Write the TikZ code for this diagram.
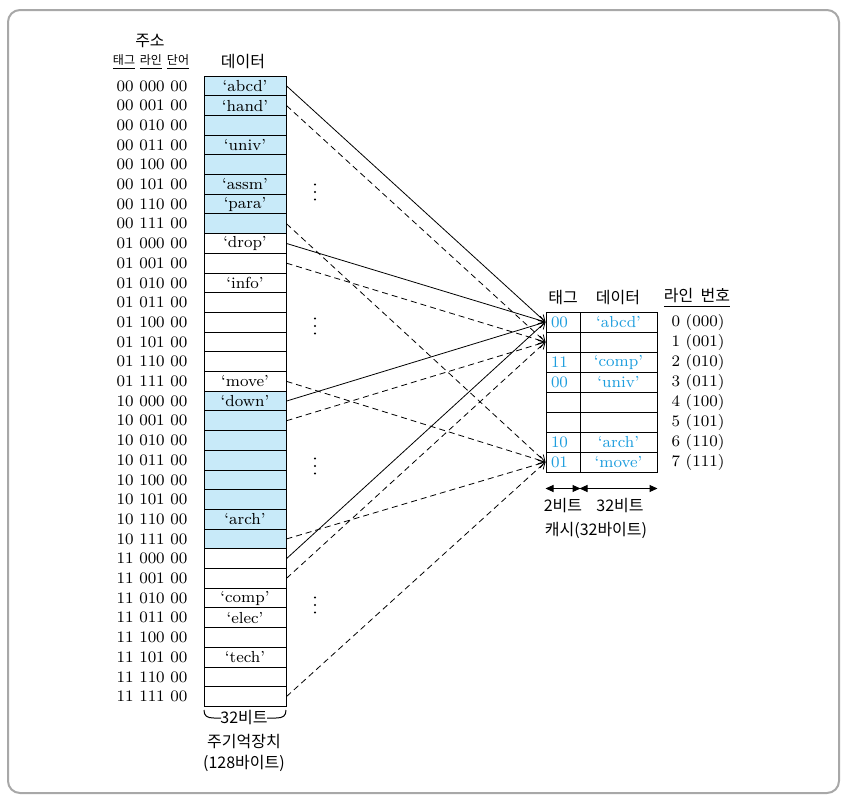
\documentclass[tikz,border=0pt]{standalone}
\usepackage{fontspec}
\newfontfamily\kr{Noto Sans CJK KR}
\usetikzlibrary{arrows.meta}

\definecolor{cellblue}{RGB}{200,234,249}
\definecolor{tagblue}{RGB}{30,158,222}
\definecolor{framegray}{RGB}{168,168,168}

\begin{document}
\begin{tikzpicture}[
    x=0.5pt, y=-0.5pt,
    every node/.style={font=\fontsize{8}{9.6}\selectfont},
    krtext/.style={font=\fontsize{8}{9.6}\selectfont\kr},
    krsmall/.style={font=\fontsize{6}{7.2}\selectfont\kr},
    memcell/.style={
        draw, line width=0.5pt, minimum width=41pt, minimum height=9.85pt, inner sep=0pt
    },
    tagcell/.style={
        draw, line width=0.5pt, text width=12pt, inner xsep=2.5pt, inner ysep=0pt,
        minimum height=10pt, align=left, text=tagblue
    },
    datacell/.style={
        draw, line width=0.5pt, minimum width=38.5pt, minimum height=10pt,
        inner sep=0pt, text=tagblue
    },
    link/.style={line width=0.4pt, -{Straight Barb[length=3pt, width=4pt]}},
    dashlink/.style={link, dash pattern=on 3pt off 2pt},
    widtharrow/.style={line width=0.5pt,
        {Triangle[length=4pt, width=3.5pt]}-{Triangle[length=4pt, width=3.5pt]}}
]
\useasboundingbox (0,0) rectangle (848,799);
\draw[framegray, line width=1pt, rounded corners=6pt] (8,10) rectangle (839,793);

% main memory
\node[krtext] (addrhead) at (150,41) {주소};
\node[krsmall] (taghead) at (124,62) {\underline{태그}};
\node[krsmall] (linehead) at (151,62) {\underline{라인}};
\node[krsmall] (wordhead) at (178,62) {\underline{단어}};
\node[krtext] (datahead) at (243,62) {데이터};

\foreach \i/\addr/\txt in {
    0/00 000 00/`abcd', 1/00 001 00/`hand', 2/00 010 00/, 3/00 011 00/`univ',
    4/00 100 00/, 5/00 101 00/`assm', 6/00 110 00/`para', 7/00 111 00/,
    8/01 000 00/`drop', 9/01 001 00/, 10/01 010 00/`info', 11/01 011 00/,
    12/01 100 00/, 13/01 101 00/, 14/01 110 00/, 15/01 111 00/`move',
    16/10 000 00/`down', 17/10 001 00/, 18/10 010 00/, 19/10 011 00/,
    20/10 100 00/, 21/10 101 00/, 22/10 110 00/`arch', 23/10 111 00/,
    24/11 000 00/, 25/11 001 00/, 26/11 010 00/`comp', 27/11 011 00/`elec',
    28/11 100 00/, 29/11 101 00/`tech', 30/11 110 00/, 31/11 111 00/} {
    \pgfmathtruncatemacro\grp{\i/8}
    \ifodd\grp \def\cellfill{white}\else \def\cellfill{cellblue}\fi
    \node[memcell, fill=\cellfill] (m\i) at (245,{85.85+19.7*\i}) {\txt};
    \node (a\i) at (152,{85.85+19.7*\i}) {\addr};
}

% vertical dots
\foreach \y in {192,326,466,605}
    \foreach \k in {-1,0,1}
        \fill (315,{\y+7.5*\k}) circle (0.6pt);

% brace under memory
\draw[line width=0.5pt] (204,710) .. controls (204,716) and (207,718) .. (214,718) -- (221,718);
\draw[line width=0.5pt] (267,718) -- (276,718) .. controls (283,718) and (286,716) .. (286,710);
\node[krtext] (memwidth) at (244,718) {32비트};
\node[krtext] (memname) at (244,742) {주기억장치};
\node[krtext] (memsize) at (244,763) {(128바이트)};

% cache
\node[krtext] (ctaghead) at (563,298) {태그};
\node[krtext] (cdatahead) at (618,298) {데이터};
\node[krtext] (cnumhead) at (697,298) {\underline{라인\ \ 번호}};

\foreach \i/\tg/\dt/\bin in {
    0/00/`abcd'/000, 1///001, 2/11/`comp'/010, 3/00/`univ'/011,
    4///100, 5///101, 6/10/`arch'/110, 7/01/`move'/111} {
    \node[tagcell] (t\i) at (563,{322+20*\i}) {\tg};
    \node[datacell] (d\i) at (618.5,{322+20*\i}) {\dt};
    \node (n\i) at (698,{322+20*\i}) {\i\ (\bin)};
}

\draw[widtharrow] ([yshift=-8pt]t7.south west) -- ([yshift=-8pt]t7.south east);
\draw[widtharrow] ([yshift=-8pt]d7.south west) -- ([yshift=-8pt]d7.south east);
\node[krtext] (tagwidth) at (563,506) {2비트};
\node[krtext] (datawidth) at (620,506) {32비트};
\node[krtext] (cachename) at (596,530) {캐시(32바이트)};

% mapping
\foreach \r in {0,8,16,24}
    \draw[link] (m\r.east) -- (t0.west);
\foreach \r in {1,9,17,25}
    \draw[dashlink] (m\r.east) -- (t1.west);
\foreach \r in {7,15,23,31}
    \draw[dashlink] (m\r.east) -- (t7.west);

\end{tikzpicture}
\end{document}
